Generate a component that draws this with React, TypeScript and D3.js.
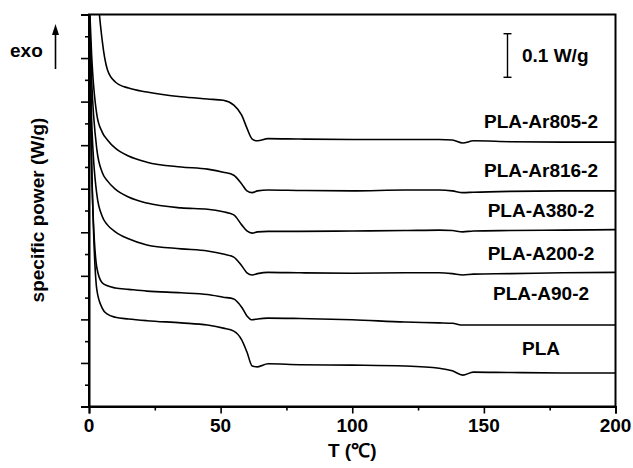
import React from "react";
import * as d3 from "d3";

const temps = [0, 1, 3, 5, 7, 10, 15, 22, 35, 45, 51, 55, 58, 60, 62, 64, 68, 80, 100, 120, 133, 138, 142, 146, 160, 180, 200];

// specific power (W/g, offset curves)
const ar805 = [1.6, 1.278, 0.979, 0.841, 0.773, 0.745, 0.731, 0.722, 0.711, 0.706, 0.703, 0.692, 0.669, 0.639, 0.614, 0.61, 0.615, 0.614, 0.613, 0.613, 0.613, 0.612, 0.605, 0.61, 0.608, 0.607, 0.607];
const ar816 = [0.95, 0.807, 0.669, 0.63, 0.612, 0.593, 0.575, 0.561, 0.55, 0.545, 0.538, 0.531, 0.511, 0.495, 0.491, 0.495, 0.497, 0.496, 0.495, 0.497, 0.497, 0.495, 0.491, 0.492, 0.494, 0.495, 0.495];
const a380 = [0.93, 0.75, 0.589, 0.538, 0.518, 0.499, 0.481, 0.467, 0.456, 0.453, 0.447, 0.44, 0.417, 0.403, 0.398, 0.401, 0.402, 0.402, 0.403, 0.404, 0.405, 0.404, 0.401, 0.403, 0.404, 0.405, 0.406];
const a200 = [0.92, 0.658, 0.486, 0.437, 0.417, 0.401, 0.385, 0.371, 0.362, 0.357, 0.35, 0.343, 0.323, 0.307, 0.302, 0.305, 0.308, 0.307, 0.306, 0.307, 0.307, 0.305, 0.302, 0.304, 0.305, 0.307, 0.308];
const a90 = [0.91, 0.543, 0.318, 0.284, 0.277, 0.272, 0.269, 0.265, 0.261, 0.257, 0.251, 0.247, 0.228, 0.208, 0.199, 0.201, 0.203, 0.202, 0.199, 0.194, 0.192, 0.191, 0.187, 0.187, 0.187, 0.187, 0.187];
const pla = [0.9, 0.566, 0.267, 0.226, 0.212, 0.205, 0.201, 0.197, 0.192, 0.187, 0.18, 0.173, 0.153, 0.125, 0.093, 0.091, 0.098, 0.096, 0.095, 0.093, 0.088, 0.082, 0.072, 0.079, 0.078, 0.077, 0.077];

const seriesNames = ["PLA-Ar805-2", "PLA-Ar816-2", "PLA-A380-2", "PLA-A200-2", "PLA-A90-2", "PLA"];
const seriesValues = [ar805, ar816, a380, a200, a90, pla];

const xTicks = [0, 50, 100, 150, 200];
const scaleBarValue = 0.1;
const scaleBarLabel = "0.1 W/g";

// label baselines (px), laid out beside the curves
const labelBaselines = [128, 177, 217, 260, 300, 355];

const font = "'Liberation Sans', Arial, Helvetica, sans-serif";

const App = () => {
  const svgRef = React.useRef<SVGSVGElement | null>(null);
  const width = 633;
  const height = 468;
  const margin = { left: 89, right: 17.5, top: 14.5, bottom: 61.5 };
  const innerW = width - margin.left - margin.right;
  const innerH = height - margin.top - margin.bottom;

  React.useEffect(() => {
    document.body.style.margin = "0";

    const xScale = d3.scaleLinear().domain([0, 200]).range([0, innerW]);
    const yScale = d3.scaleLinear().domain([0, 0.9]).range([innerH, 0]);

    const svgEl = d3.select(svgRef.current);
    svgEl.selectAll("*").remove();
    const svg = svgEl
      .append("g")
      .attr("transform", `translate(${margin.left},${margin.top})`);

    svg
      .append("clipPath")
      .attr("id", "plot-clip")
      .append("rect")
      .attr("width", innerW)
      .attr("height", innerH);

    // curves
    const line = d3
      .line<number>()
      .x((d, i) => xScale(temps[i]))
      .y((d) => yScale(d))
      .curve(d3.curveMonotoneX);

    svg
      .append("g")
      .attr("clip-path", "url(#plot-clip)")
      .selectAll(".line")
      .data(seriesValues)
      .enter()
      .append("path")
      .attr("fill", "none")
      .attr("stroke", "#000")
      .attr("stroke-width", 1.6)
      .attr("d", (d) => line(d));

    // frame (top / right)
    svg
      .append("rect")
      .attr("width", innerW)
      .attr("height", innerH)
      .attr("fill", "none")
      .attr("stroke", "#000")
      .attr("stroke-width", 2);

    // x axis
    const xAxisGroup = svg
      .append("g")
      .attr("transform", `translate(0, ${innerH})`)
      .call(d3.axisBottom(xScale).tickValues(d3.range(0, 201, 25)).tickSize(7).tickFormat(() => ""));
    xAxisGroup.select(".domain").attr("stroke-width", 2);
    xAxisGroup
      .selectAll(".tick line")
      .attr("stroke-width", 1.6)
      .attr("y2", (d: any) => (d % 50 === 0 ? 7 : 4));

    svg
      .append("g")
      .selectAll("text")
      .data(xTicks)
      .enter()
      .append("text")
      .attr("x", (d) => xScale(d))
      .attr("y", innerH + 25.5)
      .attr("text-anchor", "middle")
      .attr("font-family", font)
      .attr("font-weight", "bold")
      .attr("font-size", 19)
      .text((d) => d);

    // y axis, no labels
    const yAxisGroup = svg
      .append("g")
      .call(d3.axisLeft(yScale).tickValues(d3.range(0, 0.9001, 0.05)).tickSize(8).tickFormat(() => ""));
    yAxisGroup.select(".domain").attr("stroke-width", 2);
    yAxisGroup
      .selectAll(".tick line")
      .attr("stroke-width", 1.6)
      .attr("x2", (d: any, i: number) => (i % 2 === 0 ? -8 : -4));

    // axis titles
    svg
      .append("text")
      .attr("x", innerW / 2)
      .attr("y", innerH + 50)
      .attr("text-anchor", "middle")
      .attr("font-family", font)
      .attr("font-weight", "bold")
      .attr("font-size", 19)
      .text("T (\u2103)");

    svg
      .append("text")
      .attr("transform", `translate(${44 - margin.left}, ${210 - margin.top}) rotate(-90)`)
      .attr("text-anchor", "middle")
      .attr("font-family", font)
      .attr("font-weight", "bold")
      .attr("font-size", 19)
      .text("specific power (W/g)");

    // series labels
    svg
      .append("g")
      .selectAll("text")
      .data(seriesNames)
      .enter()
      .append("text")
      .attr("x", 541 - margin.left)
      .attr("y", (d, i) => labelBaselines[i] - margin.top)
      .attr("text-anchor", "middle")
      .attr("font-family", font)
      .attr("font-weight", "bold")
      .attr("font-size", 19)
      .text((d) => d);

    // exo arrow
    const root = svgEl.append("g");
    root
      .append("text")
      .attr("x", 10)
      .attr("y", 57)
      .attr("font-family", font)
      .attr("font-weight", "bold")
      .attr("font-size", 19)
      .text("exo");
    root
      .append("line")
      .attr("x1", 55.5)
      .attr("x2", 55.5)
      .attr("y1", 69)
      .attr("y2", 32)
      .attr("stroke", "#000")
      .attr("stroke-width", 1.6);
    root
      .append("path")
      .attr("d", "M55.5,24 L59,35 L52,35 Z")
      .attr("fill", "#000");

    // scale bar
    const barLen = yScale(0) - yScale(scaleBarValue);
    const barX = 507.5;
    const barMid = 55.5;
    const bar = root.append("g").attr("stroke", "#000").attr("stroke-width", 1.4);
    bar
      .append("line")
      .attr("x1", barX)
      .attr("x2", barX)
      .attr("y1", barMid - barLen / 2)
      .attr("y2", barMid + barLen / 2);
    [-1, 1].forEach((s) => {
      bar
        .append("line")
        .attr("x1", barX - 4)
        .attr("x2", barX + 4)
        .attr("y1", barMid + (s * barLen) / 2)
        .attr("y2", barMid + (s * barLen) / 2);
    });
    root
      .append("text")
      .attr("x", 522)
      .attr("y", 62)
      .attr("font-family", font)
      .attr("font-weight", "bold")
      .attr("font-size", 19)
      .text(scaleBarLabel);
  }, []);

  return <svg ref={svgRef} width={width} height={height} style={{ display: "block" }} />;
};

export default App;
